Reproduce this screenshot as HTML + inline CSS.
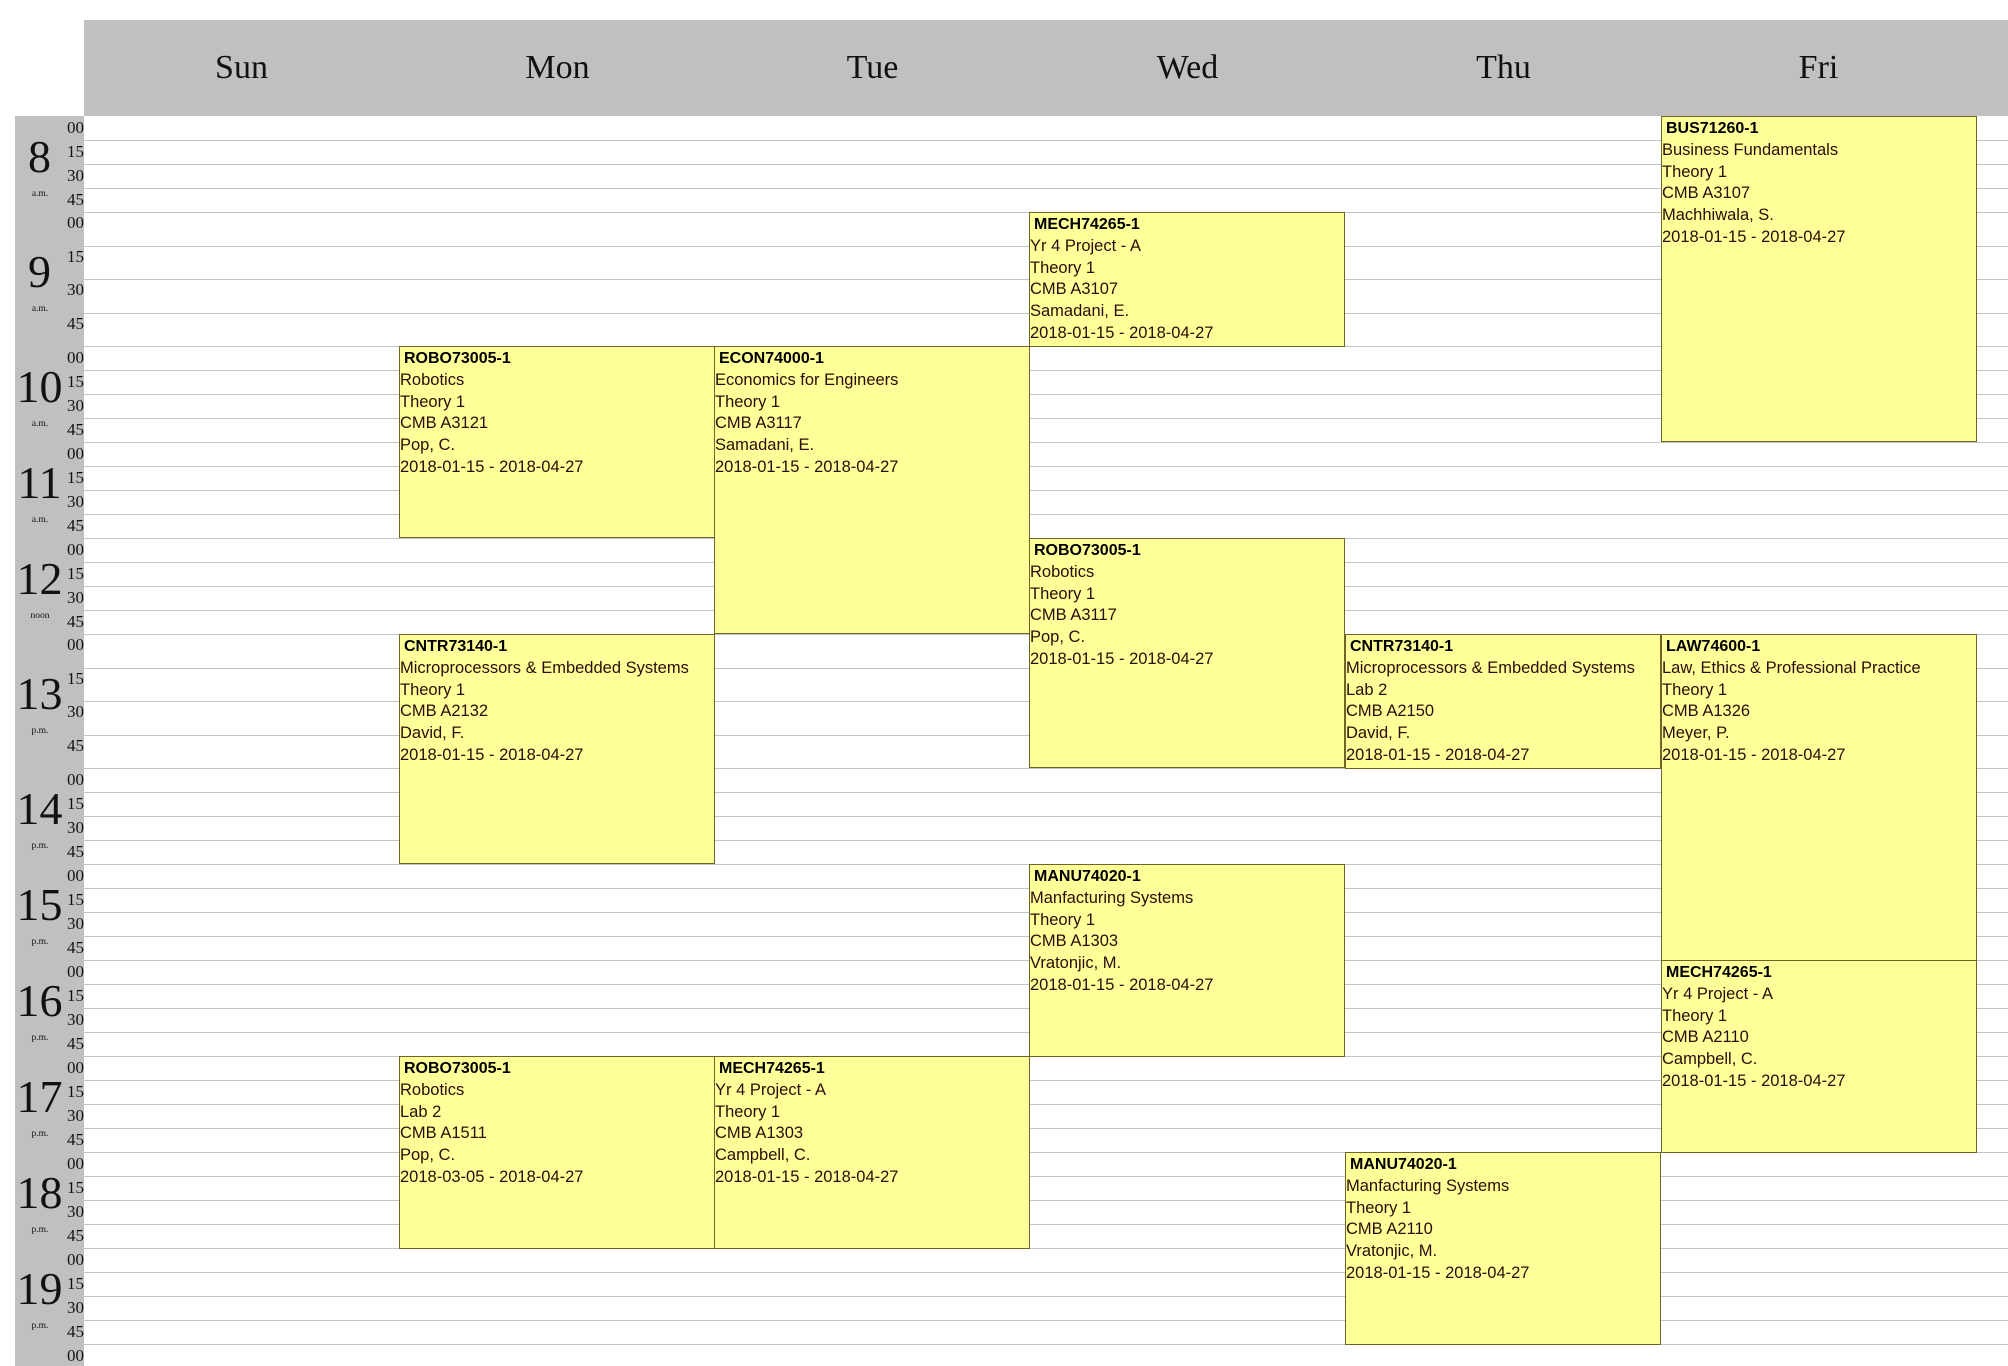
<!DOCTYPE html>
<html><head><meta charset="utf-8"><style>
html,body{margin:0;padding:0;background:#fff;width:2008px;height:1366px;overflow:hidden;position:relative}
.hd{position:absolute;left:84px;top:20px;width:1924px;height:96px;background:#c0c0c0}
.day{position:absolute;top:20px;height:96px;width:315px;text-align:center;font:34px "Liberation Serif",serif;line-height:96px;color:#111}
.lc{position:absolute;left:15px;top:116px;width:69px;height:1250px;background:#c0c0c0}
.ln{position:absolute;left:84px;width:1924px;height:0;border-top:1.5px solid #c4c4c4}
.m{position:absolute;left:56px;width:28px;text-align:right;font:17px "Liberation Serif",serif;line-height:18px;color:#111}
.h{position:absolute;left:0;width:79px;text-align:center;font:46px "Liberation Serif",serif;line-height:44px;color:#111}
.ap{position:absolute;left:0;width:80px;text-align:center;font:9.5px "Liberation Serif",serif;line-height:12px;color:#111}
.e{position:absolute;width:316px;box-sizing:border-box;background:#ffff99;border:1.5px solid #6e6428;font:16.5px "Liberation Sans",sans-serif;line-height:21.8px;color:#2c0c08;padding-top:1px;overflow:hidden;white-space:nowrap}
.e b{display:block;padding-left:4px;color:#000;font-weight:bold;font-size:16px}
</style></head><body>
<div class="hd"></div>
<div class="day" style="left:84px">Sun</div>
<div class="day" style="left:400px">Mon</div>
<div class="day" style="left:715px">Tue</div>
<div class="day" style="left:1030px">Wed</div>
<div class="day" style="left:1346px">Thu</div>
<div class="day" style="left:1661px">Fri</div>
<div class="lc"></div>
<div id="lines"></div>
<script>
var ys=[140,164,188,212,245.5,279,312.5,346,370,394,418,442,466,490,514,538,562,586,610,634,667.5,701,734.5,768,792,816,840,864,888,912,936,960,984,1008,1032,1056,1080,1104,1128,1152,1176,1200,1224,1248,1272,1296,1320,1344];
var h='';for(var i=0;i<ys.length;i++)h+='<div class="ln" style="top:'+ys[i]+'px"></div>';
document.getElementById('lines').innerHTML=h;
</script>
<div class="m" style="top:119px">00</div><div class="m" style="top:143px">15</div><div class="m" style="top:167px">30</div><div class="m" style="top:191px">45</div>
<div class="m" style="top:214px">00</div><div class="m" style="top:248px">15</div><div class="m" style="top:281px">30</div><div class="m" style="top:315px">45</div>
<div class="m" style="top:349px">00</div><div class="m" style="top:373px">15</div><div class="m" style="top:397px">30</div><div class="m" style="top:421px">45</div>
<div class="m" style="top:445px">00</div><div class="m" style="top:469px">15</div><div class="m" style="top:493px">30</div><div class="m" style="top:517px">45</div>
<div class="m" style="top:541px">00</div><div class="m" style="top:565px">15</div><div class="m" style="top:589px">30</div><div class="m" style="top:613px">45</div>
<div class="m" style="top:636px">00</div><div class="m" style="top:670px">15</div><div class="m" style="top:703px">30</div><div class="m" style="top:737px">45</div>
<div class="m" style="top:771px">00</div><div class="m" style="top:795px">15</div><div class="m" style="top:819px">30</div><div class="m" style="top:843px">45</div>
<div class="m" style="top:867px">00</div><div class="m" style="top:891px">15</div><div class="m" style="top:915px">30</div><div class="m" style="top:939px">45</div>
<div class="m" style="top:963px">00</div><div class="m" style="top:987px">15</div><div class="m" style="top:1011px">30</div><div class="m" style="top:1035px">45</div>
<div class="m" style="top:1059px">00</div><div class="m" style="top:1083px">15</div><div class="m" style="top:1107px">30</div><div class="m" style="top:1131px">45</div>
<div class="m" style="top:1155px">00</div><div class="m" style="top:1179px">15</div><div class="m" style="top:1203px">30</div><div class="m" style="top:1227px">45</div>
<div class="m" style="top:1251px">00</div><div class="m" style="top:1275px">15</div><div class="m" style="top:1299px">30</div><div class="m" style="top:1323px">45</div>
<div class="m" style="top:1347px">00</div>
<div class="h" style="top:135px">8</div><div class="ap" style="top:188px">a.m.</div>
<div class="h" style="top:250px">9</div><div class="ap" style="top:303px">a.m.</div>
<div class="h" style="top:365px">10</div><div class="ap" style="top:418px">a.m.</div>
<div class="h" style="top:461px">11</div><div class="ap" style="top:514px">a.m.</div>
<div class="h" style="top:557px">12</div><div class="ap" style="top:610px">noon</div>
<div class="h" style="top:672px">13</div><div class="ap" style="top:725px">p.m.</div>
<div class="h" style="top:787px">14</div><div class="ap" style="top:840px">p.m.</div>
<div class="h" style="top:883px">15</div><div class="ap" style="top:936px">p.m.</div>
<div class="h" style="top:979px">16</div><div class="ap" style="top:1032px">p.m.</div>
<div class="h" style="top:1075px">17</div><div class="ap" style="top:1128px">p.m.</div>
<div class="h" style="top:1171px">18</div><div class="ap" style="top:1224px">p.m.</div>
<div class="h" style="top:1267px">19</div><div class="ap" style="top:1320px">p.m.</div>
<div class="e" style="left:1661px;top:116px;height:326px"><b>BUS71260-1</b><div>Business Fundamentals</div><div>Theory 1</div><div>CMB A3107</div><div>Machhiwala, S.</div><div>2018-01-15 - 2018-04-27</div></div>
<div class="e" style="left:1029px;top:212px;height:135px"><b>MECH74265-1</b><div>Yr 4 Project - A</div><div>Theory 1</div><div>CMB A3107</div><div>Samadani, E.</div><div>2018-01-15 - 2018-04-27</div></div>
<div class="e" style="left:399px;top:346px;height:192px"><b>ROBO73005-1</b><div>Robotics</div><div>Theory 1</div><div>CMB A3121</div><div>Pop, C.</div><div>2018-01-15 - 2018-04-27</div></div>
<div class="e" style="left:714px;top:346px;height:288px"><b>ECON74000-1</b><div>Economics for Engineers</div><div>Theory 1</div><div>CMB A3117</div><div>Samadani, E.</div><div>2018-01-15 - 2018-04-27</div></div>
<div class="e" style="left:1029px;top:538px;height:230px"><b>ROBO73005-1</b><div>Robotics</div><div>Theory 1</div><div>CMB A3117</div><div>Pop, C.</div><div>2018-01-15 - 2018-04-27</div></div>
<div class="e" style="left:399px;top:634px;height:230px"><b>CNTR73140-1</b><div>Microprocessors &amp; Embedded Systems</div><div>Theory 1</div><div>CMB A2132</div><div>David, F.</div><div>2018-01-15 - 2018-04-27</div></div>
<div class="e" style="left:1345px;top:634px;height:135px"><b>CNTR73140-1</b><div>Microprocessors &amp; Embedded Systems</div><div>Lab 2</div><div>CMB A2150</div><div>David, F.</div><div>2018-01-15 - 2018-04-27</div></div>
<div class="e" style="left:1661px;top:634px;height:327px"><b>LAW74600-1</b><div>Law, Ethics &amp; Professional Practice</div><div>Theory 1</div><div>CMB A1326</div><div>Meyer, P.</div><div>2018-01-15 - 2018-04-27</div></div>
<div class="e" style="left:1029px;top:864px;height:193px"><b>MANU74020-1</b><div>Manfacturing Systems</div><div>Theory 1</div><div>CMB A1303</div><div>Vratonjic, M.</div><div>2018-01-15 - 2018-04-27</div></div>
<div class="e" style="left:1661px;top:960px;height:193px"><b>MECH74265-1</b><div>Yr 4 Project - A</div><div>Theory 1</div><div>CMB A2110</div><div>Campbell, C.</div><div>2018-01-15 - 2018-04-27</div></div>
<div class="e" style="left:399px;top:1056px;height:193px"><b>ROBO73005-1</b><div>Robotics</div><div>Lab 2</div><div>CMB A1511</div><div>Pop, C.</div><div>2018-03-05 - 2018-04-27</div></div>
<div class="e" style="left:714px;top:1056px;height:193px"><b>MECH74265-1</b><div>Yr 4 Project - A</div><div>Theory 1</div><div>CMB A1303</div><div>Campbell, C.</div><div>2018-01-15 - 2018-04-27</div></div>
<div class="e" style="left:1345px;top:1152px;height:193px"><b>MANU74020-1</b><div>Manfacturing Systems</div><div>Theory 1</div><div>CMB A2110</div><div>Vratonjic, M.</div><div>2018-01-15 - 2018-04-27</div></div>
</body></html>
